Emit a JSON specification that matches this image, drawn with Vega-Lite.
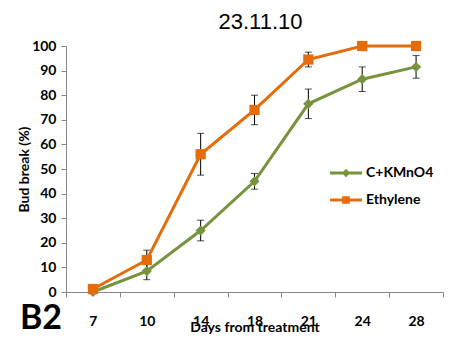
{
  "$schema": "https://vega.github.io/schema/vega-lite/v6.json",
  "width": 377,
  "height": 246,
  "autosize": {"type": "none"},
  "padding": {"left": 66, "top": 46, "right": 10, "bottom": 45},
  "background": "white",
  "title": {"text": "23.11.10", "font": "Liberation Sans", "fontSize": 22, "fontWeight": "normal", "color": "black", "anchor": "middle", "offset": 5, "dx": 6},
  "config": {"view": {"stroke": null}, "font": "Lato"},
  "datasets": {
    "main": [
      {"series": "C+KMnO4", "day": 7, "value": 0, "err": 0},
      {"series": "C+KMnO4", "day": 10, "value": 8.5, "err": 3.5},
      {"series": "C+KMnO4", "day": 14, "value": 25, "err": 4.2},
      {"series": "C+KMnO4", "day": 18, "value": 45, "err": 3.2},
      {"series": "C+KMnO4", "day": 21, "value": 76.5, "err": 6},
      {"series": "C+KMnO4", "day": 24, "value": 86.5, "err": 5},
      {"series": "C+KMnO4", "day": 28, "value": 91.5, "err": 4.6},
      {"series": "Ethylene", "day": 7, "value": 1.2, "err": 0},
      {"series": "Ethylene", "day": 10, "value": 13, "err": 4},
      {"series": "Ethylene", "day": 14, "value": 56, "err": 8.5},
      {"series": "Ethylene", "day": 18, "value": 74, "err": 6},
      {"series": "Ethylene", "day": 21, "value": 94.5, "err": 3},
      {"series": "Ethylene", "day": 24, "value": 100, "err": 0},
      {"series": "Ethylene", "day": 28, "value": 100, "err": 0}
    ],
    "tag": [{"day": 7, "value": 0, "label": "B2"}]
  },
  "layer": [
    {
      "data": {"name": "main"},
      "transform": [{"filter": "datum.err > 0"}],
      "mark": {"type": "errorbar", "color": "black", "thickness": 1, "ticks": {"size": 7, "thickness": 1, "color": "black"}},
      "encoding": {
        "x": {"field": "day", "type": "ordinal"},
        "y": {"field": "value", "type": "quantitative"},
        "yError": {"field": "err"}
      }
    },
    {
      "data": {"name": "main"},
      "mark": {"type": "line", "strokeWidth": 3},
      "encoding": {
        "x": {"field": "day", "type": "ordinal"},
        "y": {"field": "value", "type": "quantitative"},
        "color": {"field": "series", "type": "nominal", "scale": {"domain": ["C+KMnO4", "Ethylene"], "range": ["#77933C", "#E46C0A"]}, "legend": {
          "orient": "none", "legendX": 273, "legendY": 120, "title": null,
          "labelFont": "Lato", "labelFontSize": 14, "labelFontWeight": "bold", "labelColor": "black",
          "symbolSize": 196, "rowPadding": 13, "labelOffset": 13, "padding": 0,
          "encode": {"symbols": {"update": {
            "shape": {"signal": "datum.value === 'C+KMnO4' ? 'M-2.29,-0.21L-0.39,-0.21L0,-0.6L0.39,-0.21L2.29,-0.21L2.29,0.21L0.39,0.21L0,0.6L-0.39,0.21L-2.29,0.21Z' : 'M-2.29,-0.21L-0.55,-0.21L-0.55,-0.55L0.55,-0.55L0.55,-0.21L2.29,-0.21L2.29,0.21L0.55,0.21L0.55,0.55L-0.55,0.55L-0.55,0.21L-2.29,0.21Z'"},
            "fill": {"signal": "datum.value === 'C+KMnO4' ? '#77933C' : '#E46C0A'"},
            "strokeWidth": {"value": 0},
            "opacity": {"value": 1}
          }}}
        }}
      }
    },
    {
      "data": {"name": "main"},
      "transform": [{"filter": "datum.series === 'C+KMnO4'"}],
      "mark": {"type": "point", "shape": "diamond", "filled": true, "opacity": 1, "size": 105},
      "encoding": {
        "x": {"field": "day", "type": "ordinal"},
        "y": {"field": "value", "type": "quantitative"},
        "color": {"field": "series", "type": "nominal", "legend": null}
      }
    },
    {
      "data": {"name": "main"},
      "transform": [{"filter": "datum.series === 'Ethylene'"}],
      "mark": {"type": "point", "shape": "square", "filled": true, "opacity": 1, "size": 105},
      "encoding": {
        "x": {"field": "day", "type": "ordinal"},
        "y": {"field": "value", "type": "quantitative"},
        "color": {"field": "series", "type": "nominal", "legend": null}
      }
    },
    {
      "data": {"name": "tag"},
      "mark": {"type": "text", "font": "Lato", "fontSize": 34, "fontWeight": "bold", "color": "black", "align": "center", "baseline": "middle", "dx": -52, "dy": 27, "clip": false},
      "encoding": {
        "x": {"field": "day", "type": "ordinal"},
        "y": {"field": "value", "type": "quantitative"},
        "text": {"field": "label"}
      }
    }
  ],
  "encoding": {
    "x": {"field": "day", "type": "ordinal", "scale": {"type": "band", "paddingInner": 0, "paddingOuter": 0}, "axis": {
      "title": "Days from treatment", "labelAngle": 0, "tickBand": "extent", "grid": false,
      "domainColor": "#868686", "tickColor": "#868686", "tickSize": 5,
      "labelFont": "Lato", "labelFontSize": 14, "labelFontWeight": "bold", "labelColor": "black", "labelPadding": 17,
      "titleFont": "Lato", "titleFontSize": 14, "titleFontWeight": "bold", "titleColor": "black", "titlePadding": -8
    }},
    "y": {"field": "value", "type": "quantitative", "scale": {"domain": [0, 100], "nice": false}, "axis": {
      "title": "Bud break (%)", "values": [0, 10, 20, 30, 40, 50, 60, 70, 80, 90, 100], "grid": false,
      "domainColor": "#868686", "tickColor": "#868686", "tickSize": 5,
      "labelFont": "Lato", "labelFontSize": 14, "labelFontWeight": "bold", "labelColor": "black", "labelPadding": 5,
      "titleFont": "Lato", "titleFontSize": 14, "titleFontWeight": "bold", "titleColor": "black", "titlePadding": 0
    }}
  }
}
